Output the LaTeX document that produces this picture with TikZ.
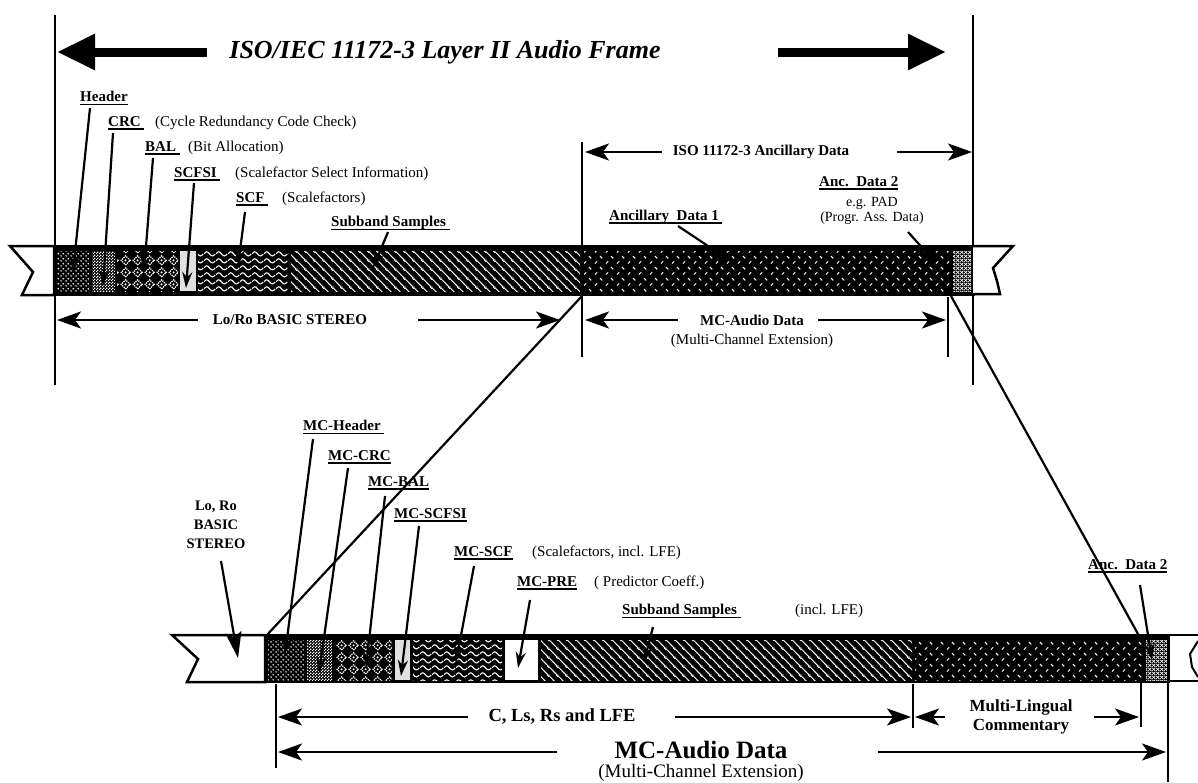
\documentclass[tikz,border=0pt]{standalone}
\usepackage{fontspec}
\setmainfont{Liberation Serif}
\usetikzlibrary{arrows.meta,patterns.meta}
\newcommand\ulx[1]{\setbox0=\hbox{#1}\rlap{\rule[-3.2pt]{\wd0}{1.3pt}}\box0}

\tikzdeclarepattern{name=pdots, type=uncolored, bounding box={(0pt,0pt) and (5pt,5pt)}, tile size={(5pt,5pt)},
  code={\fill (1.25pt,1.25pt) circle (1pt); \fill (3.75pt,3.75pt) circle (1pt);}}
\tikzdeclarepattern{name=pfine, type=uncolored, bounding box={(0pt,0pt) and (3pt,3pt)}, tile size={(3pt,3pt)},
  code={\fill (0pt,0pt) rectangle (1.5pt,1.5pt); \fill (1.5pt,1.5pt) rectangle (3pt,3pt);}}
\tikzdeclarepattern{name=pdiam, type=uncolored, bounding box={(0pt,0pt) and (12pt,12pt)}, tile size={(12pt,12pt)},
  code={\draw[line width=1.2pt, dash pattern=on 1.3pt off 0.9pt] (6pt,1.2pt) -- (10.8pt,6pt) -- (6pt,10.8pt) -- (1.2pt,6pt) -- cycle; \fill (6pt,6pt) circle (1.2pt);}}
\tikzdeclarepattern{name=pwave, type=uncolored, bounding box={(0pt,0pt) and (12pt,7pt)}, tile size={(12pt,7pt)},
  code={\draw[line width=1.2pt] (0pt,3.5pt) sin (3pt,5.8pt) cos (6pt,3.5pt) sin (9pt,1.2pt) cos (12pt,3.5pt);}}
\tikzdeclarepattern{name=phatch, type=uncolored, bounding box={(0pt,0pt) and (9pt,9pt)}, tile size={(9pt,9pt)},
  code={\draw[line width=1.1pt] (-1pt,10pt) -- (10pt,-1pt); \draw[line width=1.1pt] (-1pt,1pt) -- (1pt,-1pt); \draw[line width=1.1pt] (8pt,10pt) -- (10pt,8pt);}}
\tikzdeclarepattern{name=pplate, type=uncolored, bounding box={(0pt,0pt) and (11pt,11pt)}, tile size={(11pt,11pt)},
  code={\draw[line width=1.1pt] (1pt,1.5pt) -- (3.5pt,4pt); \draw[line width=1.1pt] (6.5pt,9.5pt) -- (9pt,7pt);}}
\tikzdeclarepattern{name=pxx, type=uncolored, bounding box={(0pt,0pt) and (4pt,4pt)}, tile size={(4pt,4pt)},
  code={\draw[line width=0.8pt] (0pt,0pt) -- (4pt,4pt); \draw[line width=0.8pt] (0pt,4pt) -- (4pt,0pt);}}

\begin{document}
\begin{tikzpicture}[x=1pt,y=-1pt,
  lab/.style={font=\fontsize{15}{17}\selectfont\bfseries, inner sep=0pt, anchor=west},
  note/.style={font=\fontsize{15}{17}\selectfont, inner sep=0pt, anchor=west},
  dimtxt/.style={font=\fontsize{15}{17}\selectfont\bfseries, inner sep=0pt},
  ttlstyle/.style={font=\fontsize{26}{30}\selectfont\bfseries\itshape, inner sep=0pt},
  vline/.style={line width=1.8pt},
  leader/.style={line width=2.2pt, -{Stealth[length=16pt,width=10pt]}},
  plain/.style={line width=2.2pt},
  dim/.style={line width=2.2pt, -{Stealth[length=24pt,width=17pt,inset=6pt]}},
  big/.style={line width=9pt, -{Triangle[length=38pt,width=34pt]}},
  endcap/.style={line width=2.5pt, fill=white, line join=miter},
  seg/.style={pattern color=white}]
\useasboundingbox (0,0) rectangle (1198,782);

% ===== verticals (top) =====
\coordinate (vL1) at (55,15);  \coordinate (vL2) at (55,385);
\coordinate (vR1) at (973,15); \coordinate (vR2) at (973,385);
\coordinate (vA1) at (582,142); \coordinate (vA2) at (582,357);
\coordinate (vB1) at (948,297); \coordinate (vB2) at (948,357);
\draw[vline] (vL1) -- (vL2);
\draw[vline] (vR1) -- (vR2);
\draw[vline] (vA1) -- (vA2);
\draw[vline] (vB1) -- (vB2);

% ===== title =====
\node[ttlstyle] (ttl) at (445,52) {ISO/IEC 11172-3 Layer II Audio Frame};
\coordinate (tL1) at (207,52); \coordinate (tL2) at (57,52);
\coordinate (tR1) at (778,52); \coordinate (tR2) at (946,52);
\draw[big] (tL1) -- (tL2);
\draw[big] (tR1) -- (tR2);

% ===== top bar =====
\fill[black] (52,245) rectangle (975,296);
\draw[endcap] (10,246) -- (54,246) -- (54,295) -- (22,295) -- (33,272) -- cycle;
\draw[endcap] (973,246) -- (1013,246) -- (993,268) -- (997,281) -- (1000,294) -- (973,294);
\path[seg, pattern=pdots]  (57,251) rectangle (90,291);
\path[seg, pattern=pfine]  (92,251) rectangle (115,291);
\path[seg, pattern=pdiam]  (117,251) rectangle (178,291);
\fill[black!12] (180,251) rectangle (196,291);
\path[seg, pattern=pwave]  (198,251) rectangle (288,291);
\path[seg, pattern=phatch] (291,251) rectangle (580,291);
\path[seg, pattern=pplate] (584,251) rectangle (950,291);
\path[seg, pattern=pxx]    (953,251) rectangle (971,291);

% ===== top labels =====
\node[lab] (hdr) at (80,98) {\ulx{Header}};
\node[lab] (crc) at (108,123) {\ulx{CRC\ }};
\node[note] (crcn) at (155,123) {(Cycle Redundancy Code Check)};
\node[lab] (bal) at (145,148) {\ulx{BAL\ }};
\node[note] (baln) at (188,148) {(Bit Allocation)};
\node[lab] (scfsi) at (174,174) {\ulx{SCFSI\ }};
\node[note] (scfsin) at (235,174) {(Scalefactor Select Information)};
\node[lab] (scf) at (236,199) {\ulx{SCF\ }};
\node[note] (scfn) at (282,199) {(Scalefactors)};
\node[lab] (sbs) at (331,223) {\ulx{Subband Samples\ }};
\node[lab] (anc1) at (609,217) {\ulx{Ancillary\ \ Data 1\hspace{3pt}}};
\node[lab] (anc2) at (819,183) {\ulx{Anc.\ \ Data 2}};
\node[font=\fontsize{14}{15}\selectfont, inner sep=0pt, align=center] (pad) at (872,211) {e.g. PAD\\(Progr. Ass. Data)};

% leaders top
\coordinate (lh1) at (90,108);  \coordinate (lh2) at (73,272);
\coordinate (lc1) at (113,133); \coordinate (lc2) at (103,286);
\coordinate (lb1) at (153,158); \coordinate (lb2) at (144,272);
\coordinate (ls1) at (194,183); \coordinate (ls2) at (186,288);
\coordinate (lf1) at (245,212); \coordinate (lf2) at (238,266);
\coordinate (lu1) at (388,232); \coordinate (lu2) at (373,268);
\coordinate (la1) at (678,226); \coordinate (la2) at (732,262);
\coordinate (lp1) at (908,232); \coordinate (lp2) at (935,262);
\draw[leader] (lh1) -- (lh2);
\draw[leader] (lc1) -- (lc2);
\draw[leader] (lb1) -- (lb2);
\draw[leader] (ls1) -- (ls2);
\draw[leader] (lf1) -- (lf2);
\draw[leader] (lu1) -- (lu2);
\draw[leader] (la1) -- (la2);
\draw[leader] (lp1) -- (lp2);

% ISO ancillary arrow
\node[dimtxt] (isoanc) at (761,152) {ISO 11172-3 Ancillary Data};
\coordinate (ia1) at (662,152); \coordinate (ia2) at (585,152);
\coordinate (ia3) at (897,152); \coordinate (ia4) at (972,152);
\draw[dim] (ia1) -- (ia2);
\draw[dim] (ia3) -- (ia4);

% Lo/Ro arrow
\node[dimtxt] (loro) at (290,320) {Lo/Ro BASIC STEREO};
\coordinate (lr1) at (198,320); \coordinate (lr2) at (57,320);
\coordinate (lr3) at (418,320); \coordinate (lr4) at (560,320);
\draw[dim] (lr1) -- (lr2);
\draw[dim] (lr3) -- (lr4);

% MC-Audio data (top)
\node[dimtxt] (mct) at (752,320) {MC-Audio Data};
\node[font=\fontsize{15}{17}\selectfont, inner sep=0pt] (mctn) at (752,341) {(Multi-Channel Extension)};
\coordinate (ma1) at (678,320); \coordinate (ma2) at (585,320);
\coordinate (ma3) at (818,320); \coordinate (ma4) at (946,320);
\draw[dim] (ma1) -- (ma2);
\draw[dim] (ma3) -- (ma4);

% ===== diagonals =====
\coordinate (d1a) at (582,296); \coordinate (d1b) at (266,636);
\coordinate (d2a) at (951,296); \coordinate (d2b) at (1138,634);
\draw[plain] (d1a) -- (d1b);
\draw[plain] (d2a) -- (d2b);

% ===== lower bar =====
\fill[black] (263,634) rectangle (1170,683);
\draw[endcap] (172,635) -- (265,635) -- (265,682) -- (187,682) -- (198,659) -- cycle;
\fill[white] (1170,637) rectangle (1198,680);
\draw[line width=2.5pt] (1168,635) -- (1198,635);
\draw[line width=2.5pt] (1168,681) -- (1198,681);
\draw[line width=2pt, line join=round] (1198,641) -- (1190,654) -- (1192,667) -- (1198,677);
\path[seg, pattern=pdots]  (268,640) rectangle (305,680);
\path[seg, pattern=pfine]  (307,640) rectangle (332,680);
\path[seg, pattern=pdiam]  (335,640) rectangle (392,680);
\fill[black!12] (395,640) rectangle (410,680);
\path[seg, pattern=pwave]  (413,640) rectangle (502,680);
\fill[white] (505,640) rectangle (538,680);
\path[seg, pattern=phatch] (541,640) rectangle (912,680);
\path[seg, pattern=pplate] (915,640) rectangle (1143,680);
\path[seg, pattern=pxx]    (1146,640) rectangle (1167,680);

% ===== lower labels =====
\node[lab, anchor=center, align=center, font=\fontsize{14.5}{19}\selectfont\bfseries] (loro2) at (216,525) {Lo, Ro\\BASIC\\STEREO};
\node[lab] (mch) at (303,427) {\ulx{MC-Header\ }};
\node[lab] (mccrc) at (328,457) {\ulx{MC-CRC}};
\node[lab] (mcbal) at (368,483) {\ulx{MC-BAL}};
\node[lab] (mcscfsi) at (394,515) {\ulx{MC-SCFSI}};
\node[lab] (mcscf) at (454,553) {\ulx{MC-SCF}};
\node[note] (mcscfn) at (532,553) {(Scalefactors, incl. LFE)};
\node[lab] (mcpre) at (517,583) {\ulx{MC-PRE}};
\node[note] (mcpren) at (594,583) {( Predictor Coeff.)};
\node[lab] (sbs2) at (622,611) {\ulx{Subband Samples\ }};
\node[note] (sbs2n) at (795,611) {(incl. LFE)};
\node[lab] (anc2b) at (1088,566) {\ulx{Anc.\ \ Data 2}};

% leaders lower
\coordinate (m01) at (221,561); \coordinate (m02) at (238,658);
\coordinate (m11) at (313,439); \coordinate (m12) at (285,654);
\coordinate (m21) at (348,468); \coordinate (m22) at (319,673);
\coordinate (m31) at (385,496); \coordinate (m32) at (366,668);
\coordinate (m41) at (419,526); \coordinate (m42) at (401,676);
\coordinate (m51) at (474,566); \coordinate (m52) at (456,662);
\coordinate (m61) at (530,600); \coordinate (m62) at (518,668);
\coordinate (m71) at (653,627); \coordinate (m72) at (644,662);
\coordinate (m81) at (1140,585); \coordinate (m82) at (1152,660);
\draw[line width=2.2pt, -{Stealth[length=26pt,width=16pt,inset=5pt]}] (m01) -- (m02);
\draw[leader] (m11) -- (m12);
\draw[leader] (m21) -- (m22);
\draw[leader] (m31) -- (m32);
\draw[leader] (m41) -- (m42);
\draw[leader] (m51) -- (m52);
\draw[leader] (m61) -- (m62);
\draw[leader] (m71) -- (m72);
\draw[leader] (m81) -- (m82);

% verticals lower
\coordinate (vC1) at (276,684); \coordinate (vC2) at (276,768);
\coordinate (vD1) at (913,684); \coordinate (vD2) at (913,728);
\coordinate (vE1) at (1141,682); \coordinate (vE2) at (1141,727);
\coordinate (vF1) at (1168,682); \coordinate (vF2) at (1168,782);
\draw[vline] (vC1) -- (vC2);
\draw[vline] (vD1) -- (vD2);
\draw[vline] (vE1) -- (vE2);
\draw[vline] (vF1) -- (vF2);

% C, Ls, Rs and LFE
\node[dimtxt, font=\fontsize{18.5}{20}\selectfont\bfseries] (cls) at (562,717) {C, Ls, Rs and LFE};
\coordinate (c1) at (468,717); \coordinate (c2) at (278,717);
\coordinate (c3) at (675,717); \coordinate (c4) at (911,717);
\draw[dim] (c1) -- (c2);
\draw[dim] (c3) -- (c4);

% Multi-lingual
\node[dimtxt, align=center, font=\fontsize{17}{19}\selectfont\bfseries] (mlc) at (1021,717) {Multi-Lingual\\Commentary};
\coordinate (ml1) at (945,717); \coordinate (ml2) at (915,717);
\coordinate (ml3) at (1094,717); \coordinate (ml4) at (1139,717);
\draw[dim] (ml1) -- (ml2);
\draw[dim] (ml3) -- (ml4);

% MC-Audio data (bottom)
\node[dimtxt, font=\fontsize{25}{27}\selectfont\bfseries] (mcb) at (701,750) {MC-Audio Data};
\node[inner sep=0pt, font=\fontsize{19}{21}\selectfont] (mcbn) at (701,773) {(Multi-Channel Extension)};
\coordinate (mb1) at (557,752); \coordinate (mb2) at (278,752);
\coordinate (mb3) at (878,752); \coordinate (mb4) at (1166,752);
\draw[dim] (mb1) -- (mb2);
\draw[dim] (mb3) -- (mb4);
\end{tikzpicture}
\end{document}
